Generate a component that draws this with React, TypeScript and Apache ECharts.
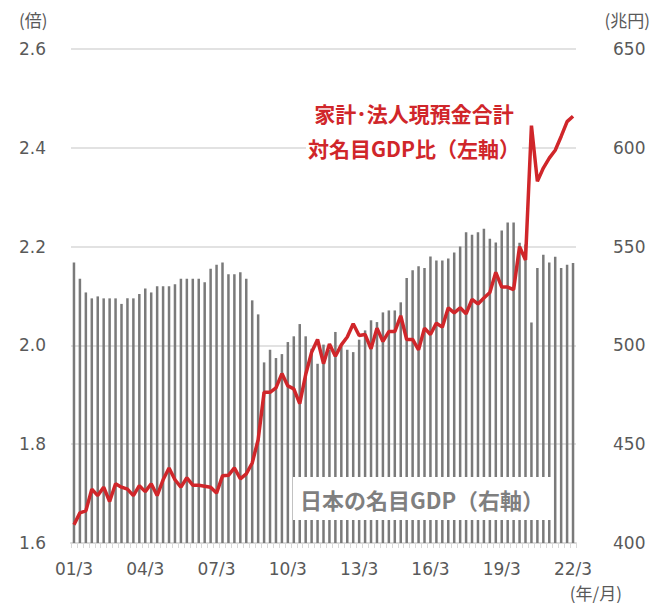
import React, { useEffect, useRef } from "react";
import * as echarts from "echarts";

// Quarterly categories 01/3 ... 22/3
const years = ["01","02","03","04","05","06","07","08","09","10","11","12","13","14","15","16","17","18","19","20","21","22"];
const months = ["3", "6", "9", "12"];
const categories: string[] = [];
years.forEach((y) => months.forEach((m) => { if (!(y === "22" && m !== "3")) categories.push(y + "/" + m); }));

// Japan nominal GDP (trillion yen, right axis)
const gdp = [
  542, 533.7, 526.8, 523.8, 524.8, 523.8, 523.8, 523.8, 521, 523.8,
  523.8, 526, 528.8, 526.8, 529.9, 529.9, 529.9, 530.9, 533.7, 533.7,
  533.7, 533.7, 531.9, 538.8, 540.8, 542, 536, 536, 537, 533.7,
  522.8, 515.7, 491.4, 497.8, 493.6, 495.6, 501.7, 504.6, 510.8, 504.6,
  498.3, 490.7, 500.4, 497.8, 506.8, 499.5, 497.8, 496.6, 502.9, 507.6,
  512.7, 511.8, 516.7, 517.7, 517.7, 521.8, 534.1, 538, 540, 539.2,
  545, 543, 543, 544, 547, 550, 557.2, 556, 557.2, 559,
  554, 552.1, 558.2, 562.2, 562.2, 552, 551, 511.6, 539.2, 545.9,
  542, 544.9, 539.2, 540.8, 541.7,
];

// Household + corporate cash & deposits / nominal GDP (times, left axis)
const ratio = [
  1.637, 1.661, 1.665, 1.709, 1.696, 1.713, 1.684, 1.72, 1.713, 1.709,
  1.696, 1.716, 1.704, 1.72, 1.696, 1.728, 1.752, 1.728, 1.713, 1.732,
  1.717, 1.717, 1.715, 1.713, 1.701, 1.736, 1.737, 1.752, 1.73, 1.74,
  1.762, 1.809, 1.905, 1.905, 1.914, 1.943, 1.918, 1.912, 1.882, 1.941,
  1.986, 2.012, 1.963, 2.003, 1.978, 2.001, 2.017, 2.044, 2.02, 2.022,
  1.993, 2.035, 2.008, 2.028, 2.028, 2.06, 2.012, 2.012, 1.991, 2.035,
  2.022, 2.045, 2.037, 2.076, 2.066, 2.076, 2.064, 2.093, 2.084, 2.096,
  2.107, 2.148, 2.118, 2.118, 2.113, 2.2, 2.173, 2.445, 2.332, 2.359,
  2.379, 2.395, 2.423, 2.453, 2.464,
];

const leftTitle = "(倍)";
const rightTitle = "(兆円)";
const xTitle = "(年/月)";
const lineLabel1 = "家計･法人現預金合計";
const lineLabel2 = "対名目GDP比（左軸）";
const barLabel = "日本の名目GDP（右軸）";

const CJK = '"Noto Sans CJK JP", "Noto Sans", sans-serif';
const NUM = '"DejaVu Sans", sans-serif';
const TICK = "#595959";
const GRID = "#d9d9d9";
const RED = "#d0262a";

export default function App() {
  const ref = useRef<HTMLDivElement>(null);
  useEffect(() => {
    if (!ref.current) return;
    const chart = echarts.init(ref.current, undefined, { renderer: "svg" });
    chart.setOption({
      animation: false,
      grid: { left: 71, right: 86, top: 49, bottom: 60 },
      xAxis: {
        type: "category",
        data: categories,
        boundaryGap: true,
        axisLine: { lineStyle: { color: GRID, width: 2 } },
        axisTick: { show: true, interval: 0, length: 5, lineStyle: { color: GRID, width: 1 } },
        axisLabel: { interval: 11, color: TICK, fontFamily: NUM, fontSize: 17, margin: 17 },
      },
      yAxis: [
        {
          type: "value",
          min: 1.6,
          max: 2.6,
          interval: 0.2,
          axisLine: { show: false },
          axisTick: { show: false },
          splitLine: { lineStyle: { color: GRID, width: 1.5 } },
          axisLabel: { color: TICK, fontFamily: NUM, fontSize: 17, margin: 25, formatter: (v: number) => v.toFixed(1) },
        },
        {
          type: "value",
          min: 400,
          max: 650,
          interval: 50,
          position: "right",
          axisLine: { show: false },
          axisTick: { show: false },
          splitLine: { show: false },
          axisLabel: { color: TICK, fontFamily: NUM, fontSize: 17, margin: 37 },
        },
      ],
      series: [
        {
          type: "bar",
          yAxisIndex: 1,
          data: gdp,
          barWidth: 2.5,
          itemStyle: { color: "#7a7a7a" },
          z: 2,
        },
        {
          type: "line",
          yAxisIndex: 0,
          data: ratio,
          symbol: "none",
          lineStyle: { color: RED, width: 3.5 },
          z: 6,
        },
      ],
      graphic: [
        { type: "text", x: 19, y: 19, z: 10, style: { text: leftTitle, fill: TICK, font: `17px ${CJK}`, verticalAlign: "middle" } },
        { type: "text", x: 650, y: 19, z: 10, style: { text: rightTitle, fill: TICK, font: `17px ${CJK}`, align: "right", verticalAlign: "middle" } },
        { type: "text", x: 622, y: 592, z: 10, style: { text: xTitle, fill: TICK, font: `17px ${CJK}`, align: "right", verticalAlign: "middle" } },
        { type: "text", x: 414, y: 113, z: 1, style: { text: lineLabel1, fill: RED, font: `bold 21px ${CJK}`, align: "center", verticalAlign: "middle", backgroundColor: "#fff", padding: [2, 2] } },
        { type: "text", x: 414, y: 148, z: 1, style: { text: lineLabel2, fill: RED, font: `bold 21px ${CJK}`, align: "center", verticalAlign: "middle", backgroundColor: "#fff", padding: [2, 2] } },
        { type: "rect", z: 5, shape: { x: 293, y: 477, width: 260, height: 43 }, style: { fill: "#fff" } },
        { type: "text", x: 422, y: 499, z: 6, style: { text: barLabel, fill: "#7f7f7f", font: `bold 22px ${CJK}`, align: "center", verticalAlign: "middle" } },
      ],
    });
    return () => chart.dispose();
  }, []);
  return <div ref={ref} style={{ position: "absolute", left: 0, top: 0, width: 662, height: 603 }} />;
}
